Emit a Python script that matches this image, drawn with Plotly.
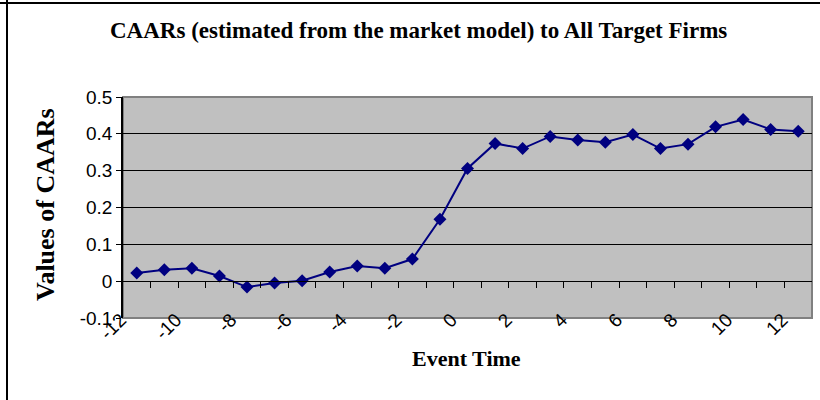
import plotly.graph_objects as go

event_time = list(range(-12, 13))
caar = [0.022, 0.031, 0.035, 0.014, -0.016, -0.005, 0.001, 0.025, 0.041, 0.035, 0.060,
        0.168, 0.306, 0.374, 0.360, 0.393, 0.383, 0.377, 0.398, 0.360, 0.372, 0.419,
        0.439, 0.412, 0.407]
x_tick_vals = list(range(-12, 13, 2))
x_tick_text = [str(v) for v in x_tick_vals]
y_tick_vals = [-0.1, 0, 0.1, 0.2, 0.3, 0.4, 0.5]
y_tick_text = ["-0.1", "0", "0.1", "0.2", "0.3", "0.4", "0.5"]
boundaries = [v + 0.5 for v in event_time[:-1]]

title_text = "CAARs (estimated from the market model) to All Target Firms"
x_title = "Event Time"
y_title = "Values of CAARs"

serif = "Times New Roman, Liberation Serif, serif"
sans = "Arial, Liberation Sans, sans-serif"
navy = "#000080"
y_range = [-0.1, 0.5]
x_range = [event_time[0] - 0.5, event_time[-1] + 0.5]

fig = go.Figure()
# invisible trace to register the zero-crossing axis
fig.add_trace(go.Scatter(x=event_time, y=caar, xaxis="x2", yaxis="y", mode="lines",
                         line=dict(color="rgba(0,0,0,0)"), hoverinfo="skip", showlegend=False))
fig.add_trace(go.Scatter(
    x=event_time, y=caar, mode="lines+markers",
    line=dict(color=navy, width=2),
    marker=dict(symbol="diamond", size=10, color=navy),
    showlegend=False,
))

fig.update_layout(
    width=820, height=400,
    margin=dict(l=123, r=8, t=97, b=82),
    paper_bgcolor="white",
    plot_bgcolor="#C0C0C0",
    xaxis=dict(
        range=x_range, tickmode="array", tickvals=x_tick_vals, ticktext=x_tick_text,
        tickangle=-45, showline=False, ticks="", showgrid=False, zeroline=False,
        tickfont=dict(family=sans, size=19, color="black"),
        ticklabelstandoff=-14, ticklabelshift=-16,
    ),
    xaxis2=dict(
        range=x_range, overlaying="x", anchor="free",
        position=(0 - y_range[0]) / (y_range[1] - y_range[0]),
        showline=True, linecolor="black", linewidth=1,
        ticks="outside", ticklen=6, tickcolor="black", tickwidth=1,
        tickmode="array", tickvals=boundaries, showticklabels=False,
        showgrid=False, zeroline=False,
    ),
    yaxis=dict(
        range=y_range, tickmode="array", tickvals=y_tick_vals, ticktext=y_tick_text,
        showline=True, linecolor="black", linewidth=1.5,
        ticks="outside", ticklen=5, tickcolor="black",
        showgrid=True, gridcolor="#000000", gridwidth=1, zeroline=False,
        tickfont=dict(family=sans, size=19, color="black"),
    ),
    shapes=[
        dict(type="rect", xref="paper", yref="paper", x0=0, x1=1, y0=0, y1=1,
             line=dict(color="#808080", width=2), layer="below"),
        dict(type="line", xref="paper", yref="paper", x0=-1, x1=2, y0=1 + 94 / 221, y1=1 + 94 / 221,
             line=dict(color="black", width=2)),
        dict(type="line", xref="paper", yref="paper", x0=-116 / 689, x1=-116 / 689, y0=-1, y1=2,
             line=dict(color="black", width=2)),
    ],
    annotations=[
        dict(text=f"<b>{title_text}</b>", xref="paper", yref="paper",
             x=(418 - 123) / 689, y=1 + (97 - 31) / 221, xanchor="center", yanchor="middle",
             showarrow=False, font=dict(family=serif, size=23, color="black")),
        dict(text=f"<b>{x_title}</b>", xref="paper", yref="paper",
             x=(466 - 123) / 689, y=-(358 - 318) / 221, xanchor="center", yanchor="middle",
             showarrow=False, font=dict(family=serif, size=22, color="black")),
        dict(text=f"<b>{y_title}</b>", xref="paper", yref="paper", textangle=-90,
             x=-(123 - 45) / 689, y=(318 - 205) / 221, xanchor="center", yanchor="middle",
             showarrow=False, font=dict(family=serif, size=26, color="black")),
    ],
)

fig.write_html("out.html")
